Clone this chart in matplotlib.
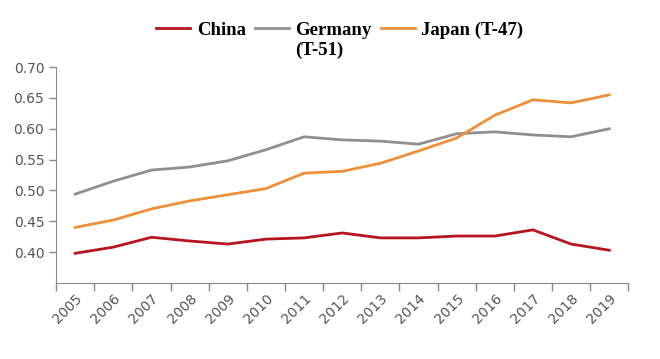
import matplotlib.pyplot as plt
import numpy as np

years = [str(y) for y in range(2005, 2020)]
china = [0.398, 0.408, 0.424, 0.418, 0.413, 0.421, 0.423, 0.431, 0.423, 0.423, 0.426, 0.426, 0.436, 0.413, 0.403]
germany = [0.494, 0.515, 0.533, 0.538, 0.548, 0.566, 0.587, 0.582, 0.580, 0.575, 0.592, 0.595, 0.590, 0.587, 0.600]
japan = [0.440, 0.452, 0.470, 0.483, 0.493, 0.503, 0.528, 0.531, 0.544, 0.564, 0.585, 0.622, 0.647, 0.642, 0.655]

fig = plt.figure(figsize=(6.6, 3.59), dpi=100)
ax = fig.add_axes([0.085, 0.212, 0.867, 0.601])

x = np.arange(len(years)) + 0.5
ax.plot(x, china, color='#b8141f', lw=2, label='China')
ax.plot(x, germany, color='#8f8f8f', lw=2, label='Germany')
ax.plot(x, japan, color='#f08f3a', lw=2, label='Japan (T-47)')

ax.set_xlim(0, len(years))
ax.set_ylim(0.35, 0.70)
ax.set_yticks(np.arange(0.40, 0.701, 0.05))
ax.set_yticklabels(['%.2f' % v for v in np.arange(0.40, 0.701, 0.05)])

ax.set_xticks(x)
ax.set_xticklabels(years, rotation=45, ha='right', rotation_mode='anchor')
ax.set_xticks(np.arange(0, len(years) + 1), minor=True)
ax.tick_params(axis='x', which='major', length=0, pad=6)
ax.tick_params(axis='x', which='minor', length=6, color='#888888', width=1)
ax.tick_params(axis='y', length=5, color='#888888', width=1)
ax.tick_params(labelsize=10, labelcolor='#555555')

for s in ['top', 'right']:
    ax.spines[s].set_visible(False)
for s in ['left', 'bottom']:
    ax.spines[s].set_color('#888888')

legfont = {'family': 'Liberation Serif', 'weight': 'bold', 'size': 13.5}
leg = fig.legend(loc='center', bbox_to_anchor=(0.515, 0.916), ncol=3, frameon=False,
                 prop=legfont, handlelength=1.8, handletextpad=0.35, columnspacing=0.5)

# second line of the Germany label sits under it, as in the original wrapped legend
fig.canvas.draw()
bb = leg.get_texts()[1].get_window_extent()
W, H = fig.bbox.width, fig.bbox.height
fig.text(bb.x0 / W, (bb.y0 - 3) / H, '(T-51)', ha='left', va='top',
         fontfamily='Liberation Serif', fontweight='bold', fontsize=13.5)

plt.savefig('out.png', dpi=100)
